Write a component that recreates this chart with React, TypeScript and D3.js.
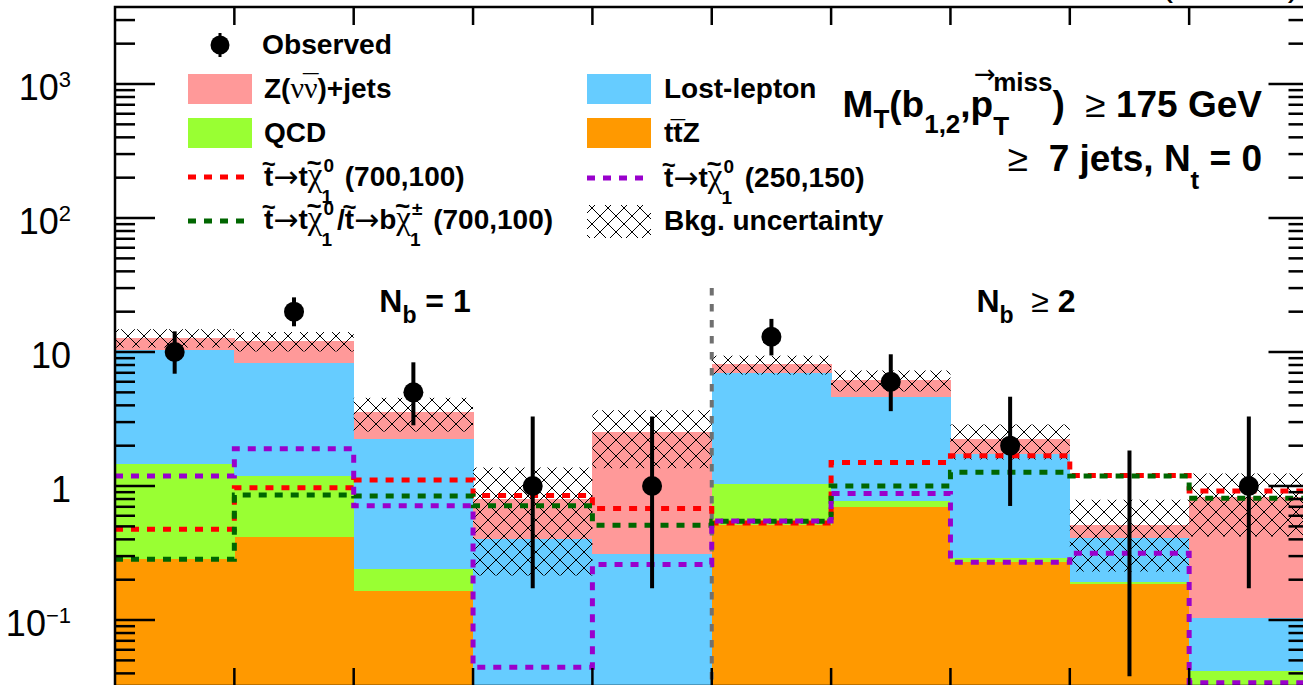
import React from 'react';
import * as d3 from 'd3';

// ---------------- data ----------------
const binIndex = [0, 1, 2, 3, 4, 5, 6, 7, 8, 9];
const ttZ = [0.285, 0.417, 0.164, 0.015, 0.015, 0.51, 0.7, 0.27, 0.186, 0.02];
const qcd = [1.175, 0.773, 0.076, 0.005, 0.005, 0.52, 0.07, 0.018, 0.005, 0.022];
const lostLepton = [8.89, 7.13, 2.0, 0.38, 0.29, 5.9, 3.82, 1.46, 0.216, 0.061];
const zInv = [2.45, 3.78, 1.31, 0.395, 2.21, 1.16, 1.59, 0.48, 0.103, 0.727];
const bkgUnc = [2.0, 2.0, 1.0, 0.58, 1.16, 1.3, 1.1, 0.65, 0.28, 0.41];
const observed = [10, 20, 5, 1, 1, 13, 6, 2, 0, 1];
const obsLow = [6.89, 15.56, 2.84, 0.173, 0.173, 9.44, 3.62, 0.71, 0.038, 0.173];
const obsHigh = [14.27, 25.58, 8.38, 3.3, 3.3, 17.67, 9.62, 4.64, 1.84, 3.3];
const sigT2tt700 = [0.475, 0.97, 1.11, 0.85, 0.68, 0.53, 1.5, 1.68, 1.2, 0.92];
const sigT2tb700 = [0.284, 0.857, 0.842, 0.713, 0.51, 0.545, 1.0, 1.27, 1.19, 0.81];
const sigT2tt250 = [1.19, 1.9, 0.713, 0.0445, 0.26, 0.548, 0.88, 0.27, 0.315, 0.034];
const yDomain = [0.0322, 3755];
const yLabelExponents = [-1, 0, 1, 2, 3];
const regionSplitBin = 5;
const regionLineTop = 30;

const SANS = '"Liberation Sans", Arial, Helvetica, sans-serif';
const SERIF = '"Liberation Serif", "DejaVu Serif", serif';
const DEJAVU = '"DejaVu Sans", sans-serif';

let _ctx: CanvasRenderingContext2D | null = null;
function textWidth(s: string, size: number, weight: string, fam: string) {
  if (!_ctx) _ctx = document.createElement('canvas').getContext('2d');
  _ctx!.font = `${weight} ${size}px ${fam}`;
  return _ctx!.measureText(s).width;
}

type Seg = {
  t?: string; size?: number; w?: string; fam?: string; dy?: number; dx?: number;
  acc?: string; accSize?: number; accRise?: number; accDx?: number; accW?: string; accFam?: string;
  sup?: string; sub?: string; supDy?: number; subDy?: number; supDx?: number; subDx?: number;
};

function Rich({ x, y, anchor = 'start', segs, size, weight = 'bold', fam = SANS }:
  { x: number; y: number; anchor?: string; segs: Seg[]; size: number; weight?: string; fam?: string }) {
  const pieces: any[] = [];
  let cx = 0;
  for (const s of segs) {
    const sz = s.size ?? size;
    const wt = s.w ?? weight;
    const fm = s.fam ?? fam;
    if (s.sup !== undefined || s.sub !== undefined) {
      let adv = 0;
      if (s.sup) {
        const w = textWidth(s.sup, sz, wt, fm);
        pieces.push({ t: s.sup, x: cx + (s.supDx ?? 0), dy: s.supDy ?? -size * 0.45, sz, wt, fm });
        adv = Math.max(adv, w + (s.supDx ?? 0));
      }
      if (s.sub) {
        const w = textWidth(s.sub, sz, wt, fm);
        pieces.push({ t: s.sub, x: cx + (s.subDx ?? 0), dy: s.subDy ?? size * 0.4, sz, wt, fm });
        adv = Math.max(adv, w + (s.subDx ?? 0));
      }
      cx += adv + (s.dx ?? 0);
    } else {
      const t = s.t ?? '';
      const w = textWidth(t, sz, wt, fm);
      pieces.push({ t, x: cx, dy: s.dy ?? 0, sz, wt, fm });
      if (s.acc) {
        pieces.push({
          t: s.acc, x: cx + w / 2 + (s.accDx ?? 0), dy: (s.dy ?? 0) - (s.accRise ?? size * 0.5),
          sz: s.accSize ?? sz, wt: s.accW ?? 'normal', fm: s.accFam ?? SANS, anchor: 'middle',
        });
      }
      cx += w + (s.dx ?? 0);
    }
  }
  const x0 = anchor === 'end' ? x - cx : anchor === 'middle' ? x - cx / 2 : x;
  return (
    <g>
      {pieces.map((p, i) => (
        <text key={i} x={x0 + p.x} y={y + p.dy} fontSize={p.sz} fontWeight={p.wt} fontFamily={p.fm}
          textAnchor={p.anchor ?? 'start'} fill="#000" style={{ whiteSpace: 'pre' }}>{p.t}</text>
      ))}
    </g>
  );
}

const LS = 28; // legend font size
const stop = (extra: Seg = {}): Seg => ({ t: 't', acc: '~', accSize: 24, accW: 'bold', accRise: 14, ...extra });
const arrow: Seg = { t: '→', w: 'normal', size: 30, fam: DEJAVU, dy: 1 };
const chi = (sup: string): Seg[] => [
  { t: 'χ', fam: SERIF, w: 'normal', size: 33, acc: '~', accSize: 26, accW: 'bold', accRise: 14, accDx: -1 },
  { sup, sub: '1', size: 19, supDy: -14, subDy: 17, supDx: 1, subDx: -1, dx: 3 },
];

const legendRed: Seg[] = [stop(), arrow, { t: 't' }, ...chi('0'), { t: ' (700,100)' }];
const legendGreen: Seg[] = [stop(), arrow, { t: 't' }, ...chi('0'), { t: '/' }, stop(), arrow, { t: 'b' }, ...chi('±'), { t: ' (700,100)' }];
const legendPurple: Seg[] = [stop(), arrow, { t: 't' }, ...chi('0'), { t: ' (250,150)' }];
const legendZ: Seg[] = [{ t: 'Z(' }, { t: 'ν', fam: SERIF, w: 'normal', size: 30 },
  { t: 'ν', fam: SERIF, w: 'normal', size: 30, acc: '¯', accSize: 28, accRise: 4 }, { t: ')+jets' }];
const legendTTZ: Seg[] = [{ t: 't' }, { t: 't', acc: '¯', accSize: 26, accRise: 3 }, { t: 'Z' }];

const TS = 37;
const title1: Seg[] = [
  { t: 'M' }, { sub: 'T', size: 26, subDy: 11 }, { t: '(b' }, { sub: '1,2', size: 26, subDy: 16 }, { t: ',' },
  { t: 'p', acc: '→', accSize: 26, accRise: 34, accDx: 3, accFam: DEJAVU }, { sup: 'miss', sub: 'T', size: 26, supDy: -26, subDy: 18 },
  { t: ')' }, { t: '  ≥ ', w: 'normal' }, { t: '175 GeV' },
];
const title2: Seg[] = [
  { t: '≥  ', w: 'normal' }, { t: '7 jets, N' }, { sub: 't', size: 26, subDy: 18 }, { t: ' = 0' },
];
const nb1: Seg[] = [{ t: 'N' }, { sub: 'b', size: 23, subDy: 11 }, { t: ' = 1' }];
const nb2: Seg[] = [{ t: 'N' }, { sub: 'b', size: 23, subDy: 11 }, { t: '  ≥ ', w: 'normal' }, { t: '2' }];

export default function App() {
  const left = 115, right = 1308.5, top = 7, bottom = 686;
  const x = d3.scaleLinear().domain([0, binIndex.length]).range([left, right]);
  const y = d3.scaleLog().domain(yDomain).range([bottom, top]).clamp(true);
  const yMin = yDomain[0];

  const keys = ['ttZ', 'qcd', 'lostLepton', 'zInv'];
  const colors: Record<string, string> = { ttZ: '#FF9900', qcd: '#99FF33', lostLepton: '#66CCFF', zInv: '#FF9999' };
  const rows = binIndex.map(i => ({ bin: i, ttZ: ttZ[i], qcd: qcd[i], lostLepton: lostLepton[i], zInv: zInv[i] }));
  const layers = d3.stack<any>().keys(keys)(rows);
  const totals = rows.map(r => r.ttZ + r.qcd + r.lostLepton + r.zInv);

  const step = d3.line<number[]>().x(d => x(d[0])).y(d => y(d[1])).curve(d3.curveStepAfter);
  const stepPts = (v: number[]) => [...v.map((d, i) => [i, d]), [v.length, v[v.length - 1]]];
  const signals = [
    { vals: sigT2tt700, color: '#FF0000' },
    { vals: sigT2tb700, color: '#006600' },
    { vals: sigT2tt250, color: '#9900CC' },
  ];

  const yTicks = y.ticks().filter(t => t >= yDomain[0] && t <= yDomain[1]);
  const isMajor = (t: number) => Math.abs(Math.log10(t) - Math.round(Math.log10(t))) < 1e-6;
  const xEdges = d3.range(1, binIndex.length);

  const dash = '8 8';

  return (
    <svg width={1303} height={685} style={{ position: 'absolute', left: 0, top: 0, background: '#fff' }}
      fontFamily={SANS}>
      <defs>
        <clipPath id="plot"><rect x={left} y={top} width={right - left} height={bottom - top} /></clipPath>
        <pattern id="hatch" patternUnits="userSpaceOnUse" width={16} height={16}>
          <path d="M0,0L16,16M16,0L0,16" stroke="#000" strokeWidth={1} fill="none" />
        </pattern>
      </defs>
      <rect width={1303} height={685} fill="#fff" />

      <g clipPath="url(#plot)">
        {layers.map(layer => (
          <g key={layer.key} fill={colors[layer.key]}>
            {layer.map((d, i) => {
              const y0 = y(Math.max(d[0], yMin));
              const y1 = y(Math.max(d[1], yMin));
              return <rect key={i} x={x(i)} width={x(i + 1) - x(i) + 0.5} y={y1} height={Math.max(0, y0 - y1)}
                shapeRendering="crispEdges" />;
            })}
          </g>
        ))}
        {totals.map((t, i) => {
          const hi = y(t + bkgUnc[i]);
          const lo = y(Math.max(t - bkgUnc[i], yMin));
          return <rect key={i} x={x(i)} width={x(i + 1) - x(i)} y={hi} height={lo - hi} fill="url(#hatch)" />;
        })}
        <line x1={x(regionSplitBin)} x2={x(regionSplitBin)} y1={y(regionLineTop)} y2={bottom}
          stroke="#707070" strokeWidth={4} strokeDasharray="7.5 8.5" />
        {signals.map((s, k) => (
          <path key={k} d={step(stepPts(s.vals) as any) || ''} fill="none" stroke={s.color} strokeWidth={5}
            strokeDasharray={dash} />
        ))}
        {binIndex.map(i => (
          <g key={i}>
            <line x1={x(i + 0.5)} x2={x(i + 0.5)} y1={y(obsLow[i])} y2={y(obsHigh[i])} stroke="#000" strokeWidth={4} />
            {observed[i] > 0 && <circle cx={x(i + 0.5)} cy={y(observed[i])} r={10} fill="#000" />}
          </g>
        ))}
      </g>

      {/* axes frame and ticks */}
      <g stroke="#000" strokeWidth={2.5}>
        <rect x={left} y={top} width={right - left} height={bottom - top} fill="none" />
        {yTicks.map((t, i) => {
          const len = isMajor(t) ? 40 : 20;
          return (
            <g key={i}>
              <line x1={left} x2={left + len} y1={y(t)} y2={y(t)} />
              <line x1={right} x2={right - len} y1={y(t)} y2={y(t)} />
            </g>
          );
        })}
        {xEdges.map(e => (
          <g key={e}>
            <line x1={x(e)} x2={x(e)} y1={top} y2={top + 18} />
            <line x1={x(e)} x2={x(e)} y1={bottom} y2={bottom - 18} />
          </g>
        ))}
      </g>

      {/* y tick labels */}
      {yLabelExponents.map(e => (
        <text key={e} x={71} y={y(Math.pow(10, e)) + 16} textAnchor="end" fontSize={36} fontFamily={SANS}>
          {e === 0 ? '1' : '10'}
          {e !== 0 && e !== 1 && <tspan dy={-13} fontSize={22}>{e < 0 ? '−' + Math.abs(e) : String(e)}</tspan>}
        </text>
      ))}

      {/* cropped header */}
      <text x={1300} y={-5} textAnchor="end" fontSize={37} fontFamily={SANS}>35.9 fb⁻¹ (13 TeV)</text>

      {/* legend */}
      <g>
        <line x1={220} x2={220} y1={33} y2={57} stroke="#000" strokeWidth={3} />
        <circle cx={220} cy={45} r={9.5} fill="#000" />
        <text x={262} y={54} fontSize={LS} fontWeight="bold" textLength={130} lengthAdjust="spacingAndGlyphs">Observed</text>

        <rect x={188} y={74} width={64} height={30} fill={colors.zInv} />
        <Rich x={264} y={98} segs={legendZ} size={LS} />
        <rect x={188} y={118} width={64} height={30} fill={colors.qcd} />
        <text x={264} y={142} fontSize={LS} fontWeight="bold">QCD</text>
        <line x1={188} x2={252} y1={177} y2={177} stroke="#FF0000" strokeWidth={5} strokeDasharray={dash} />
        <Rich x={264} y={186} segs={legendRed} size={LS} />
        <line x1={188} x2={252} y1={221} y2={221} stroke="#006600" strokeWidth={5} strokeDasharray={dash} />
        <Rich x={264} y={229} segs={legendGreen} size={LS} />

        <rect x={587} y={74} width={64} height={30} fill={colors.lostLepton} />
        <text x={664} y={98} fontSize={LS} fontWeight="bold">Lost-lepton</text>
        <rect x={587} y={118} width={64} height={30} fill={colors.ttZ} />
        <Rich x={664} y={142} segs={legendTTZ} size={LS} />
        <line x1={587} x2={651} y1={178} y2={178} stroke="#9900CC" strokeWidth={5} strokeDasharray={dash} />
        <Rich x={664} y={187} segs={legendPurple} size={LS} />
        <rect x={587} y={205} width={64} height={33} fill="url(#hatch)" />
        <text x={664} y={230} fontSize={LS} fontWeight="bold">Bkg. uncertainty</text>
      </g>

      {/* annotations */}
      <Rich x={1262} y={117} anchor="end" segs={title1} size={TS} />
      <Rich x={1262} y={171} anchor="end" segs={title2} size={TS} />
      <Rich x={425} y={312} anchor="middle" segs={nb1} size={32} />
      <Rich x={1026} y={312} anchor="middle" segs={nb2} size={32} />
    </svg>
  );
}
